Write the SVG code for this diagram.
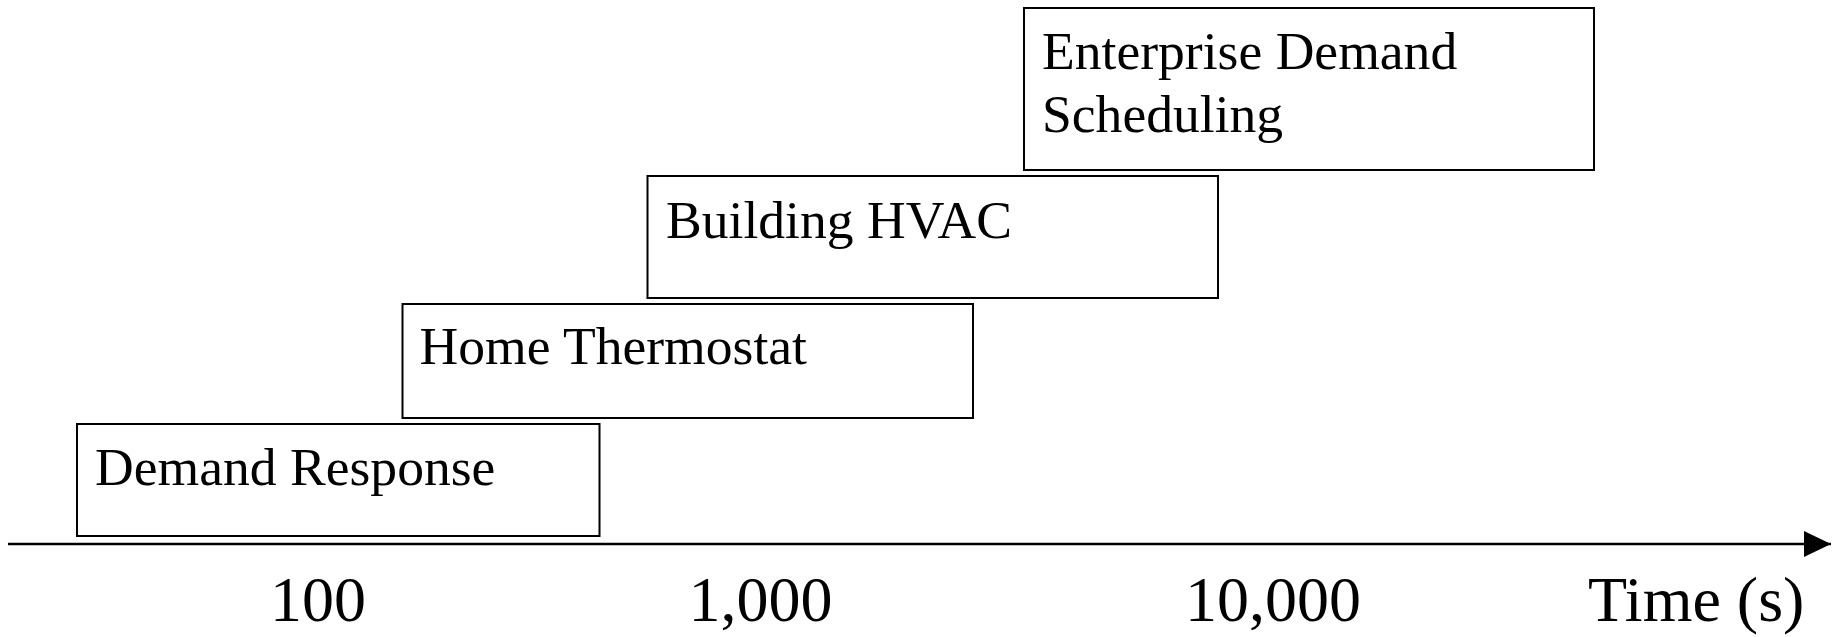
<svg xmlns="http://www.w3.org/2000/svg" width="1841" height="637" viewBox="0 0 1841 637">
  <style>
    .box { fill: #ffffff; stroke: #000000; stroke-width: 2; }
    .lbl { font-family: "Liberation Serif", "Times New Roman", serif; font-size: 53.6px; fill: #000000; }
    .tick { font-family: "Liberation Serif", "Times New Roman", serif; font-size: 64px; fill: #000000; }
    .axis { stroke: #000000; stroke-width: 2.5; fill: none; }
  </style>
  <defs>
    <marker id="arrowhead" markerUnits="userSpaceOnUse" markerWidth="28" markerHeight="26" refX="27" refY="13" orient="auto">
      <path d="M0,0 L27,13 L0,26 Z" fill="#000000"/>
    </marker>
  </defs>
  <rect width="1841" height="637" fill="#ffffff"/>

  <g id="enterprise-demand-scheduling">
    <rect class="box" x="1024" y="8" width="570" height="162"/>
    <text class="lbl" x="1042" y="69">Enterprise Demand</text>
    <text class="lbl" x="1042" y="132">Scheduling</text>
  </g>

  <g id="building-hvac">
    <rect class="box" x="647.5" y="176" width="570.5" height="122"/>
    <text class="lbl" x="666" y="238">Building HVAC</text>
  </g>

  <g id="home-thermostat">
    <rect class="box" x="402.5" y="304" width="570.5" height="114"/>
    <text class="lbl" x="419.5" y="364">Home Thermostat</text>
  </g>

  <g id="demand-response">
    <rect class="box" x="77" y="424" width="522.5" height="112"/>
    <text class="lbl" x="95" y="485">Demand Response</text>
  </g>

  <g id="connectors">
    <line class="axis" x1="8" y1="544" x2="1831" y2="544" marker-end="url(#arrowhead)"/>
  </g>

  <g id="axis-labels">
    <text class="tick" x="270" y="621">100</text>
    <text class="tick" x="688.5" y="621">1,000</text>
    <text class="tick" x="1185" y="621">10,000</text>
    <text class="tick" x="1588" y="621">Time (s)</text>
  </g>
</svg>
